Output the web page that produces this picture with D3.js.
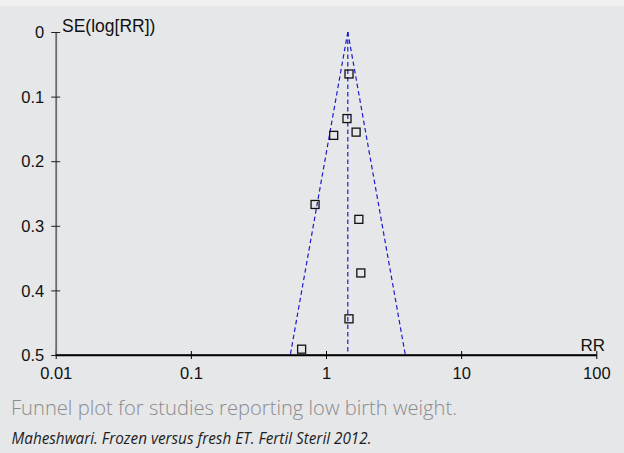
<!DOCTYPE html>
<html>
<head>
<meta charset="utf-8">
<script src="https://cdn.jsdelivr.net/npm/d3@7"></script>
<style>
    html, body { margin: 0; padding: 0; background: #e6e7e9; }
    #chart svg { display: block; }
</style>
</head>
<body>
<div id="chart"></div>
<script>
// study estimates
var studyRR = [1.48, 1.43, 1.14, 1.67, 0.83, 1.75, 1.81, 1.48, 0.66];
var studySE = [0.065, 0.134, 0.160, 0.155, 0.267, 0.290, 0.373, 0.444, 0.491];
var pooledRR = 1.45;
var xTicks = [0.01, 0.1, 1, 10, 100];
var xTickLabels = ['0.01', '0.1', '1', '10', '100'];
var yTicks = [0, 0.1, 0.2, 0.3, 0.4, 0.5];
var yTickLabels = ['0', '0.1', '0.2', '0.3', '0.4', '0.5'];

function FunnelChart() {

    this.init = function() {
        this._config = {
            width: 624,
            height: 453,
            left: 55.7,
            right: 596.3,
            top: 32,
            bottom: 355,
            font: '"Liberation Sans", Arial, sans-serif'
        };
        this._rootNode = undefined;
        this._initElements();
        this._drawAxes();
        this._drawFunnel();
        this._drawStudies();
        this._drawCaption();
    };

    this._initElements = function() {
        var c = this._config;
        this._rootNode = d3.select('#chart')
            .append('svg')
            .attr('width', c.width)
            .attr('height', c.height);

        this._rootNode.append('rect')
            .attr('width', c.width).attr('height', c.height)
            .attr('fill', '#e6e7e9');
        this._rootNode.append('rect')
            .attr('width', c.width).attr('height', 6)
            .attr('fill', '#f1f1f2');

        this._x = d3.scaleLog().domain([0.01, 100]).range([c.left, c.right]);
        this._y = d3.scaleLinear().domain([0, 0.5]).range([c.top, c.bottom]);
    };

    this._drawAxes = function() {
        var c = this._config, x = this._x, y = this._y;

        var xAxis = d3.axisBottom(x)
            .tickValues(xTicks)
            .tickFormat(function(d, i) { return xTickLabels[i]; })
            .tickSizeOuter(0);
        var gx = this._rootNode.append('g')
            .attr('transform', 'translate(0,' + c.bottom + ')')
            .call(xAxis);
        gx.select('.domain').attr('stroke', '#000').attr('stroke-width', 1.4);
        gx.selectAll('.tick line').attr('y1', -4).attr('y2', 4).attr('stroke', '#000');
        gx.selectAll('.tick text')
            .attr('y', 23.5).attr('dy', null)
            .attr('font-family', c.font).attr('font-size', 16.5).attr('fill', '#111');

        var yAxis = d3.axisLeft(y)
            .tickValues(yTicks)
            .tickFormat(function(d, i) { return yTickLabels[i]; })
            .tickSizeOuter(0);
        var gy = this._rootNode.append('g')
            .attr('transform', 'translate(' + c.left + ',0)')
            .call(yAxis);
        gy.select('.domain').attr('stroke', '#6b6b6b').attr('stroke-width', 1.8);
        gy.selectAll('.tick line').attr('x1', -4.5).attr('x2', 4.5).attr('stroke', '#222');
        gy.selectAll('.tick text')
            .attr('x', -11.5).attr('dy', '0.35em')
            .attr('font-family', c.font).attr('font-size', 16.5).attr('fill', '#111');
        // redraw x baseline over the grey y axis end
        this._rootNode.append('line')
            .attr('x1', c.left).attr('x2', c.right)
            .attr('y1', c.bottom).attr('y2', c.bottom)
            .attr('stroke', '#000').attr('stroke-width', 1.4);

        this._rootNode.append('text')
            .attr('x', 62).attr('y', 31.5)
            .attr('font-family', c.font).attr('font-size', 17.5).attr('fill', '#111')
            .text('SE(log[RR])');
        this._rootNode.append('text')
            .attr('x', 605).attr('y', 350.5).attr('text-anchor', 'end')
            .attr('font-family', c.font).attr('font-size', 17).attr('fill', '#111')
            .text('RR');
    };

    this._drawFunnel = function() {
        var x = this._x, y = this._y;
        var seMax = 0.5;
        var lower = Math.exp(Math.log(pooledRR) - 1.96 * seMax);
        var upper = Math.exp(Math.log(pooledRR) + 1.96 * seMax);
        var lines = [
            [[pooledRR, 0], [lower, seMax]],
            [[pooledRR, 0], [pooledRR, seMax]],
            [[pooledRR, 0], [upper, seMax]]
        ];
        this._rootNode.append('g').selectAll('line')
            .data(lines).enter().append('line')
            .attr('x1', function(d) { return x(d[0][0]); })
            .attr('y1', function(d) { return y(d[0][1]); })
            .attr('x2', function(d) { return x(d[1][0]); })
            .attr('y2', function(d) { return y(d[1][1]); })
            .attr('stroke', '#1c1ccf')
            .attr('stroke-width', 1.2)
            .attr('stroke-dasharray', '4.5,3');
    };

    this._drawStudies = function() {
        var x = this._x, y = this._y;
        var size = 8;
        this._rootNode.append('g').selectAll('rect')
            .data(studyRR).enter().append('rect')
            .attr('x', function(d) { return x(d) - size / 2; })
            .attr('y', function(d, i) { return y(studySE[i]) - size / 2; })
            .attr('width', size).attr('height', size)
            .attr('fill', 'none')
            .attr('stroke', '#111')
            .attr('stroke-width', 1.3);
    };

    this._drawCaption = function() {
        this._rootNode.append('text')
            .attr('x', 11).attr('y', 414.5)
            .attr('font-family', '"Open Sans", sans-serif')
            .attr('font-weight', 300)
            .attr('font-size', 20.5)
            .attr('fill', '#8b8c8e')
            .attr('textLength', 446).attr('lengthAdjust', 'spacingAndGlyphs')
            .text('Funnel plot for studies reporting low birth weight.');
        this._rootNode.append('text')
            .attr('x', 11.5).attr('y', 444)
            .attr('font-family', '"Open Sans", sans-serif')
            .attr('font-style', 'italic')
            .attr('font-size', 15.5)
            .attr('fill', '#1e1e1e')
            .attr('textLength', 360).attr('lengthAdjust', 'spacingAndGlyphs')
            .text('Maheshwari. Frozen versus fresh ET. Fertil Steril 2012.');
    };

    this.init();
}

function initApp() {
    if (typeof(window.funnelChart) === 'undefined') {
        window.funnelChart = new FunnelChart();
    }
}
document.addEventListener('DOMContentLoaded', initApp);
</script>
</body>
</html>
